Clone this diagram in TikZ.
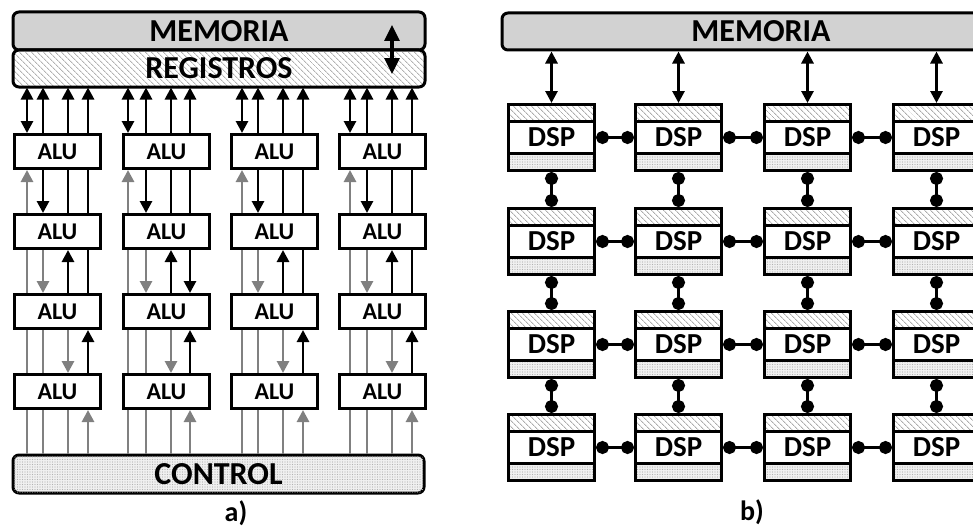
\documentclass[tikz,border=0pt]{standalone}
\usepackage{fontspec}
\setmainfont{Carlito}
\usetikzlibrary{arrows.meta,patterns.meta}
\tikzset{
  blk/.style={line width=2.8pt, black},
  gry/.style={line width=2.8pt, gray},
  tdn/.style={-{Triangle[width=12pt,length=12pt]}},
  tup/.style={{Triangle[width=12pt,length=12pt]}-},
  tdbl/.style={{Triangle[width=12pt,length=12pt]}-{Triangle[width=12pt,length=12pt]}},
  tbig/.style={{Triangle[width=15pt,length=16pt]}-{Triangle[width=15pt,length=16pt]}},
  dotlink/.style={{Circle[length=13pt]}-{Circle[length=13pt]}},
  bigfont/.style={font=\bfseries\fontsize{32}{38}\selectfont},
  membox/.style={draw, line width=3pt, rounded corners=6pt, fill=gray!35, inner sep=0pt, bigfont},
  regbox/.style={draw, line width=3pt, rounded corners=6pt, inner sep=0pt, bigfont,
     pattern={Lines[angle=-45,distance=4pt,line width=1pt]}, pattern color=gray!60},
  ctlbox/.style={draw, line width=3pt, rounded corners=6pt, inner sep=0pt, bigfont, fill=gray!12,
     postaction={pattern={Dots[distance=2.5pt,radius=0.6pt]}, pattern color=gray!60}},
  alubox/.style={draw, line width=3pt, fill=white, minimum width=86pt, minimum height=34pt,
     inner sep=0pt, anchor=north west, font=\bfseries\fontsize{24}{28}\selectfont},
  dspbox/.style={draw, line width=3pt, fill=white, minimum width=86pt, minimum height=66pt,
     inner sep=0pt, anchor=north west, font=\bfseries\fontsize{29}{32}\selectfont,
     path picture={
       \fill[white] (path picture bounding box.south west) rectangle (path picture bounding box.north east);
       \fill[pattern={Lines[angle=-45,distance=4pt,line width=1pt]}, pattern color=gray!65]
         (path picture bounding box.north west) rectangle ([yshift=-17pt]path picture bounding box.north east);
       \fill[gray!12] (path picture bounding box.south west) rectangle ([yshift=17pt]path picture bounding box.south east);
       \fill[pattern={Dots[distance=2.5pt,radius=0.6pt]}, pattern color=gray!60]
         (path picture bounding box.south west) rectangle ([yshift=17pt]path picture bounding box.south east);
       \draw[line width=3pt] ([yshift=-17pt]path picture bounding box.north west) -- ([yshift=-17pt]path picture bounding box.north east);
       \draw[line width=3pt] ([yshift=17pt]path picture bounding box.south west) -- ([yshift=17pt]path picture bounding box.south east);
     }},
  lbl/.style={font=\bfseries\fontsize{28}{32}\selectfont, inner sep=0pt}
}
\newcommand{\conn}[4]{\draw[#1] ([xshift=#4pt]#2.south west) -- ([xshift=#4pt]#3.north west);}
\begin{document}
\begin{tikzpicture}[x=1pt,y=-1pt]
\useasboundingbox (0,0) rectangle (973,527);
\clip (0,0) rectangle (973,527);

% ---------- a) ----------
\node[membox, minimum width=412pt, minimum height=38pt] (mem) at (219,31) {MEMORIA};
\node[regbox, minimum width=412pt, minimum height=37pt] (reg) at (219,68.5) {REGISTROS};
\node[ctlbox, minimum width=411pt, minimum height=38pt] (ctl) at (218.5,474) {CONTROL};
\coordinate (m1) at (392,25);
\coordinate (m2) at (392,74);
\draw[blk, line width=3.2pt, tbig] (m1) -- (m2);

\foreach \r/\y in {1/133,2/213,3/293,4/373}
  \foreach \c/\x in {1/13,2/122,3/230,4/338}
    \node[alubox] (a\r\c) at (\x,\y) {ALU};

\foreach \c/\oa/\ob/\oc/\od in {1/14/30/55/75, 2/6/24/49/68, 3/12/28/53/73, 4/12/29/54/74}{
  % registers to row 1
  \path ([xshift=\oa pt]a1\c.north west) coordinate (p1);
  \path ([xshift=\ob pt]a1\c.north west) coordinate (p2);
  \path ([xshift=\oc pt]a1\c.north west) coordinate (p3);
  \path ([xshift=\od pt]a1\c.north west) coordinate (p4);
  \draw[blk, tdbl] (p1) -- (p1 |- reg.south);
  \draw[blk, tdn] (p2) -- (p2 |- reg.south);
  \draw[blk, tdn] (p3) -- (p3 |- reg.south);
  \draw[blk, tdn] (p4) -- (p4 |- reg.south);
  % row 1 - row 2
  \conn{gry, tup}{a1\c}{a2\c}{\oa}
  \conn{blk, tdn}{a1\c}{a2\c}{\ob}
  \conn{blk}{a1\c}{a2\c}{\oc}
  \conn{blk}{a1\c}{a2\c}{\od}
  % row 2 - row 3
  \conn{gry}{a2\c}{a3\c}{\oa}
  \conn{gry, tdn}{a2\c}{a3\c}{\ob}
  \conn{blk, tup}{a2\c}{a3\c}{\oc}
  \ifnum\c=2 \conn{blk, tdn}{a2\c}{a3\c}{\od}\else \conn{blk}{a2\c}{a3\c}{\od}\fi
  % row 3 - row 4
  \conn{gry}{a3\c}{a4\c}{\oa}
  \conn{gry}{a3\c}{a4\c}{\ob}
  \conn{gry, tdn}{a3\c}{a4\c}{\oc}
  \conn{blk, tup}{a3\c}{a4\c}{\od}
  % row 4 - control
  \path ([xshift=\oa pt]a4\c.south west) coordinate (q1);
  \path ([xshift=\ob pt]a4\c.south west) coordinate (q2);
  \path ([xshift=\oc pt]a4\c.south west) coordinate (q3);
  \path ([xshift=\od pt]a4\c.south west) coordinate (q4);
  \draw[gry] (q1) -- (q1 |- ctl.north);
  \draw[gry] (q2) -- (q2 |- ctl.north);
  \draw[gry] (q3) -- (q3 |- ctl.north);
  \draw[gry, tup] (q4) -- (q4 |- ctl.north);
}
\node[lbl] (la) at (236,513) {a)};

% ---------- b) ----------
\node[membox, minimum width=518pt, minimum height=37pt] (mem2) at (761,31.5) {MEMORIA};
\foreach \r/\y in {1/103,2/207,3/310,4/413}
  \foreach \c/\x in {1/507,2/634,3/763,4/892}
    \node[dspbox] (d\r\c) at (\x,\y) {DSP};
\foreach \c in {1,2,3,4}
  \draw[blk, tdbl] (d1\c.north) -- (d1\c.north |- mem2.south);
\foreach \r in {1,2,3,4}
  \foreach \c/\n in {1/2,2/3,3/4}
    \draw[blk, dotlink] (d\r\c.east) -- (d\r\n.west);
\foreach \r/\n in {1/2,2/3,3/4}
  \foreach \c in {1,2,3,4}
    \draw[blk, dotlink] (d\r\c.south) -- (d\n\c.north);
\node[lbl] (lb) at (752,512) {b)};
\end{tikzpicture}
\end{document}
